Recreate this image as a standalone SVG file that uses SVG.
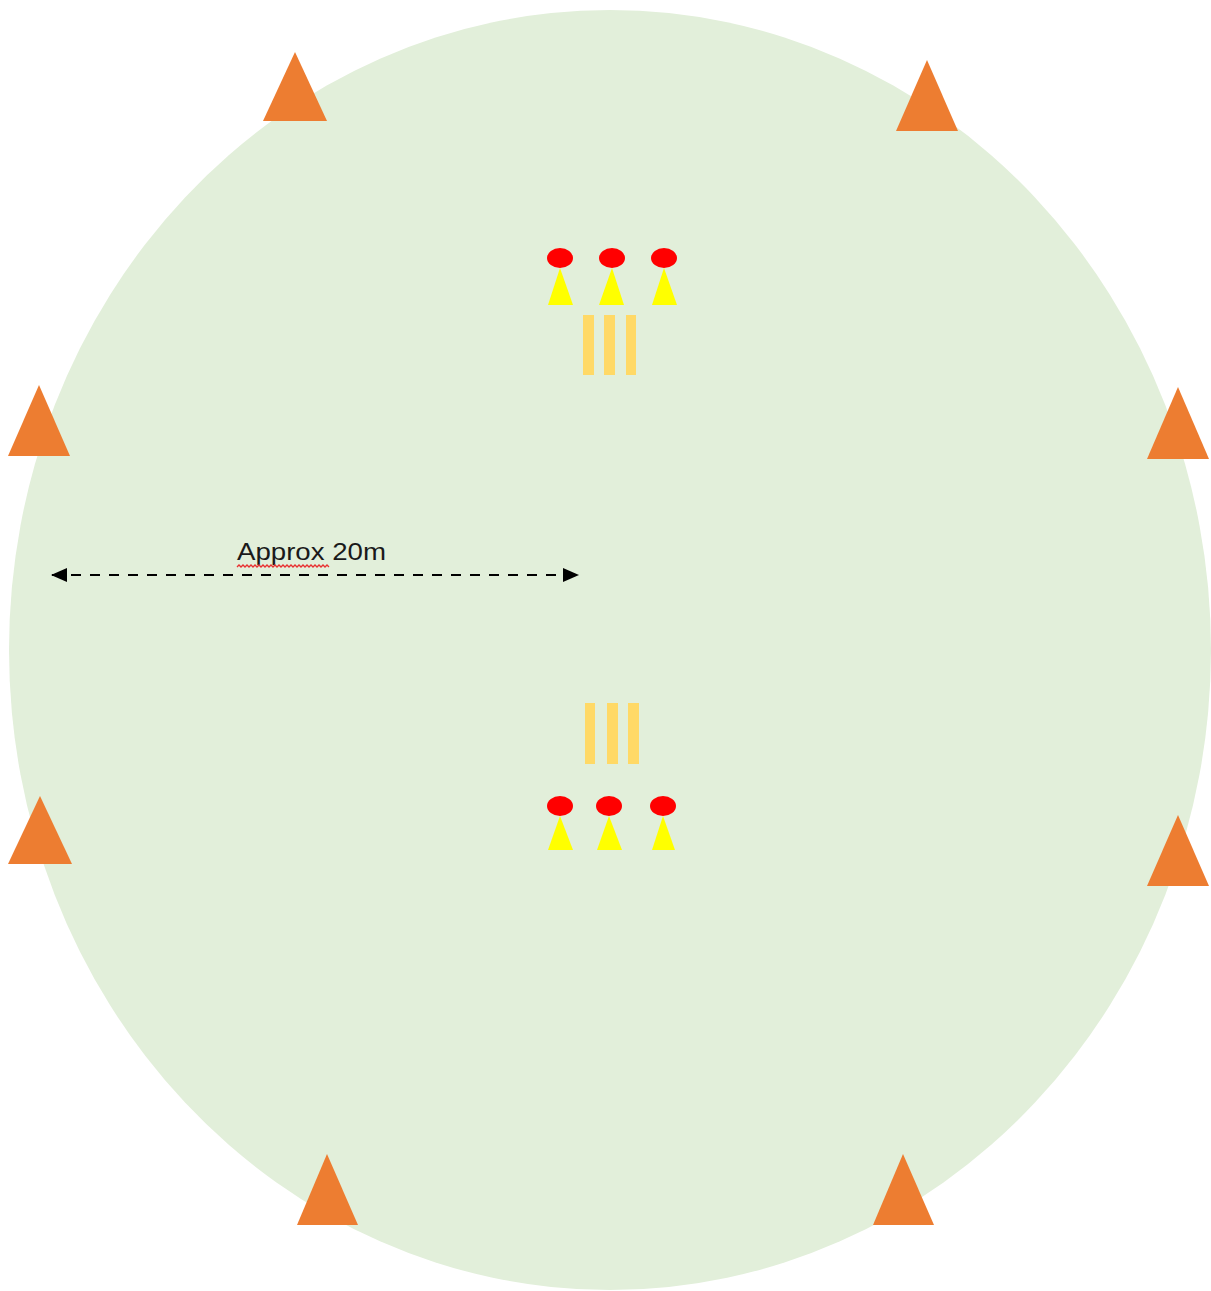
<svg xmlns="http://www.w3.org/2000/svg" width="1211" height="1291" viewBox="0 0 1211 1291">
  <defs>
    <style>
      .cone { fill: #ED7D31; }
      .ball { fill: #FF0000; }
      .stump { fill: #FFFF00; }
      .bar { fill: #FFD966; }
      .label { font-family: "Liberation Sans", Arial, sans-serif; font-size: 24px; fill: #1a1a1a; }
    </style>
    <marker id="arrow" viewBox="0 0 16 14" refX="15" refY="7" markerWidth="16" markerHeight="14" markerUnits="userSpaceOnUse" orient="auto-start-reverse">
      <path d="M0,0 L16,7 L0,14 Z" fill="#000"/>
    </marker>
  </defs>
  <rect width="1211" height="1291" fill="#FFFFFF"/>
  <g id="field">
    <ellipse cx="610" cy="650" rx="601" ry="640" fill="#E2EFDA"/>
  </g>

  <g id="boundary-cones">
    <polygon id="cone-1" class="cone" points="295,52 327,121 263,121"/>
    <polygon id="cone-2" class="cone" points="927,60 958,131 896,131"/>
    <polygon id="cone-3" class="cone" points="39,385 70,456 8,456"/>
    <polygon id="cone-4" class="cone" points="1178,387 1209,459 1147,459"/>
    <polygon id="cone-5" class="cone" points="40,796 72,864 8,864"/>
    <polygon id="cone-6" class="cone" points="1178,815 1209,886 1147,886"/>
    <polygon id="cone-7" class="cone" points="327,1154 358,1225 297,1225"/>
    <polygon id="cone-8" class="cone" points="903,1154 934,1225 873,1225"/>
  </g>

  <g id="top-markers">
    <polygon class="stump" points="560,268 573,305 548,305"/>
    <polygon class="stump" points="612,268 624,305 599,305"/>
    <polygon class="stump" points="664,268 677,305 652,305"/>
    <ellipse class="ball" cx="560" cy="258" rx="13" ry="10"/>
    <ellipse class="ball" cx="612" cy="258" rx="13" ry="10"/>
    <ellipse class="ball" cx="664" cy="258" rx="13" ry="10"/>
  </g>
  <g id="top-wicket">
    <rect class="bar" x="583" y="315" width="11" height="60"/>
    <rect class="bar" x="604" y="315" width="11" height="60"/>
    <rect class="bar" x="626" y="315" width="10" height="60"/>
  </g>

  <g id="bottom-wicket">
    <rect class="bar" x="585" y="703" width="10" height="61"/>
    <rect class="bar" x="607" y="703" width="11" height="61"/>
    <rect class="bar" x="628" y="703" width="11" height="61"/>
  </g>
  <g id="bottom-markers">
    <polygon class="stump" points="560,816 573,850 548,850"/>
    <polygon class="stump" points="609,816 622,850 597,850"/>
    <polygon class="stump" points="663,816 675,850 652,850"/>
    <ellipse class="ball" cx="560" cy="806" rx="13" ry="10"/>
    <ellipse class="ball" cx="609" cy="806" rx="13" ry="10"/>
    <ellipse class="ball" cx="663" cy="806" rx="13" ry="10"/>
  </g>

  <g id="connectors">
    <line x1="52" y1="575" x2="578" y2="575" stroke="#000" stroke-width="2" stroke-dasharray="10,9" marker-start="url(#arrow)" marker-end="url(#arrow)"/>
  </g>
  <g id="distance-label">
    <text class="label" x="237" y="560" textLength="149" lengthAdjust="spacingAndGlyphs">Approx 20m</text>
    <path d="M237,567 l2,-2 l2,2 l2,-2 l2,2 l2,-2 l2,2 l2,-2 l2,2 l2,-2 l2,2 l2,-2 l2,2 l2,-2 l2,2 l2,-2 l2,2 l2,-2 l2,2 l2,-2 l2,2 l2,-2 l2,2 l2,-2 l2,2 l2,-2 l2,2 l2,-2 l2,2 l2,-2 l2,2 l2,-2 l2,2 l2,-2 l2,2 l2,-2 l2,2 l2,-2 l2,2 l2,-2 l2,2 l2,-2 l2,2 l2,-2 l2,2 l2,-2 l2,2" fill="none" stroke="#E83030" stroke-width="1.3"/>
  </g>
</svg>
